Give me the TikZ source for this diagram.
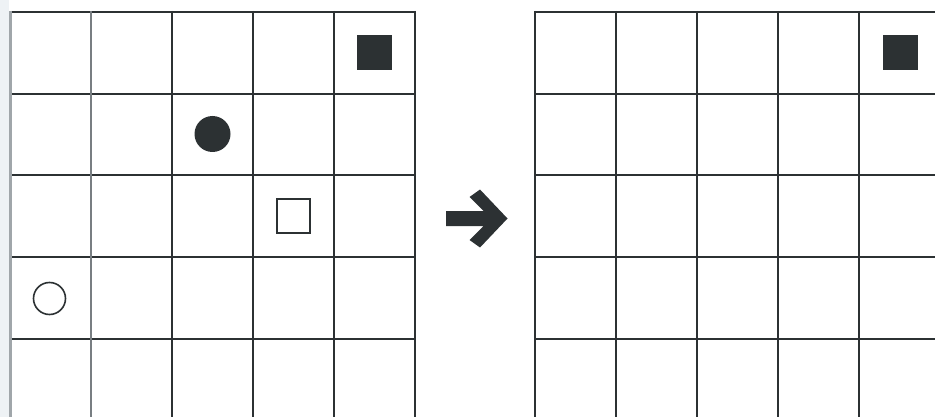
\documentclass[tikz,border=0pt]{standalone}
\begin{document}
\begin{tikzpicture}[x=1pt,y=-1pt]
\definecolor{ink}{RGB}{44,49,51}
\definecolor{lightline}{RGB}{160,166,170}
\definecolor{midline}{RGB}{120,126,130}
\definecolor{pageedge}{RGB}{238,242,245}
\tikzset{
  gridline/.style={draw=ink,line width=2pt},
  fillsq/.style={rectangle,fill=ink,draw=none,minimum size=35pt,inner sep=0pt},
  opensq/.style={rectangle,draw=ink,line width=2pt,fill=white,minimum size=33pt,inner sep=0pt},
  fillcirc/.style={circle,fill=ink,draw=none,minimum size=36pt,inner sep=0pt},
  opencirc/.style={circle,draw=ink,line width=1.6pt,fill=white,minimum size=32pt,inner sep=0pt}
}
\useasboundingbox[fill=white] (0,0) rectangle (935,417);
\fill[pageedge] (0,0) rectangle (9,417);
% left grid
\foreach \r in {0,...,4} {
  \draw[gridline] (10,12+81.75*\r) -- (415,12+81.75*\r);
}
\draw[draw=lightline,line width=3pt] (10,11) -- (10,417);
\draw[draw=midline,line width=2pt] (91,11) -- (91,417);
\foreach \c in {2,...,5} {
  \draw[gridline] (10+81*\c,11) -- (10+81*\c,417);
}
% right grid
\foreach \r in {0,...,4} {
  \draw[gridline] (535,12+81.75*\r) -- (935,12+81.75*\r);
}
\foreach \c in {0,...,4} {
  \draw[gridline] (535+81*\c,11) -- (535+81*\c,417);
}
% shapes in left grid
\node[fillsq] (lsq) at (374.5,52.5) {};
\node[fillcirc] (dot) at (212.5,134) {};
\node[opensq] (osq) at (293.7,216) {};
\node[opencirc] (ocirc) at (49.5,298.5) {};
% shape in right grid
\node[fillsq] (rsq) at (900.5,52.5) {};
% arrow
\fill[ink] (446,211) -- (483.5,211) -- (469.5,197) -- (480,189.5) -- (507.5,218.5)
  -- (480,247.5) -- (469.5,240) -- (483.5,226) -- (446,226) -- cycle;
\end{tikzpicture}
\end{document}
